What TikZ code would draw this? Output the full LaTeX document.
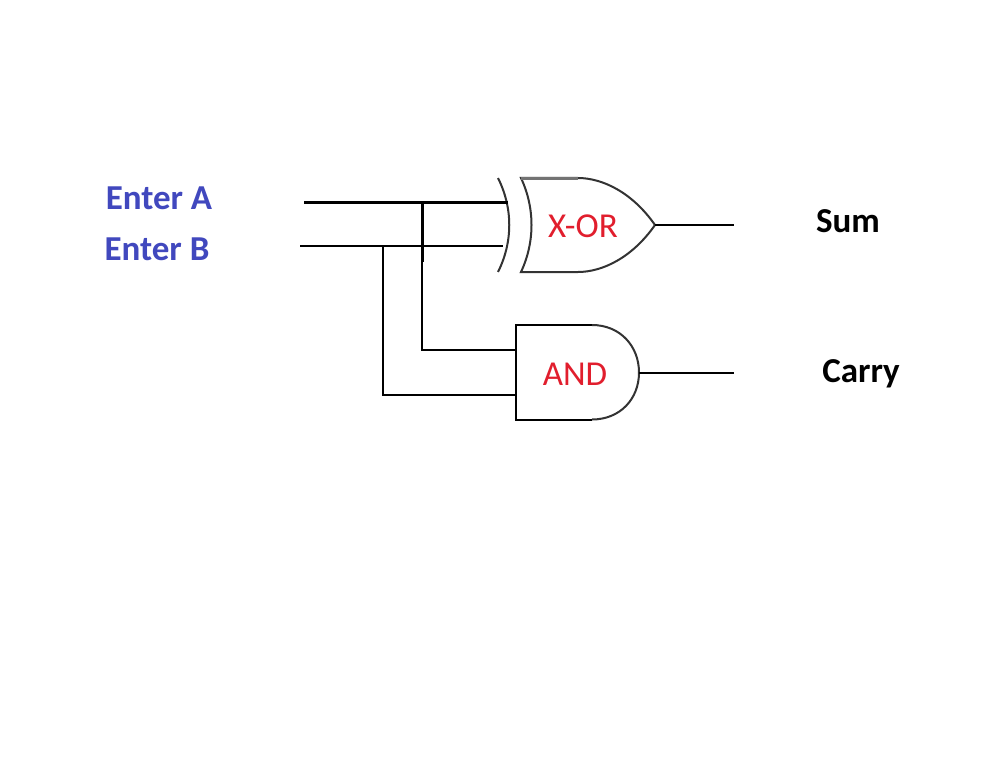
\documentclass[tikz,border=0pt]{standalone}
\usepackage{fontspec}
\setmainfont{Carlito}
\definecolor{inblue}{RGB}{65,72,190}
\definecolor{gatered}{RGB}{225,30,45}
\tikzset{
	wire/.style={line width=2pt},
	heavy/.style={line width=3pt},
	gateline/.style={line width=2pt,black!80},
	inlabel/.style={font=\fontsize{35}{42}\selectfont\bfseries,text=inblue},
	outlabel/.style={font=\fontsize{35}{42}\selectfont\bfseries,text=black},
	gatelabel/.style={font=\fontsize{35}{42}\selectfont,text=gatered}
}
\begin{document}
\begin{tikzpicture}[x=1pt,y=-1pt]
\useasboundingbox (0,0) rectangle (994,757);
\node[inlabel] (enterA) at (159,198) {Enter A};
\node[inlabel] (enterB) at (157,249) {Enter B};
\node[outlabel] (sum) at (848,221) {Sum};
\node[outlabel] (carry) at (861,374) {Carry};
\node[gatelabel] (xorlabel) at (583,226) {X-OR};
\node[gatelabel] (andlabel) at (575,374) {AND};
% input rails
\coordinate (inA) at (304,202.5);
\coordinate (inB) at (300,245.5);
\coordinate (xorA) at (508,202.5);
\coordinate (xorB) at (503,245.5);
\coordinate (tapA) at (422,202.5);
\coordinate (tapAend) at (422,262);
\coordinate (tapB) at (383,245.5);
\coordinate (andA) at (516,350);
\coordinate (andB) at (516,395);
\coordinate (xorout) at (655,225);
\coordinate (andout) at (639,372.5);
\coordinate (sumend) at (734,225);
\coordinate (carryend) at (734,372.5);
% X-OR gate
\draw[gateline] (498,178) .. controls (513,208) and (513,242) .. (498,272);
\draw[gateline,line join=miter] (xorout) .. controls (632,192) and (602,178) .. (578,178)
	-- (521,178) .. controls (535,208) and (535,242) .. (521,272)
	-- (578,272) .. controls (602,272) and (632,258) .. (xorout);
\draw[line width=3pt,black!55] (521,178.5) -- (578,178.5);
% AND gate
\draw[wire] (592,325) -- (516,325) -- (516,419.5) -- (592,419.5);
\draw[gateline] (592,325) .. controls (620,325) and (639,346) .. (andout)
	.. controls (639,399) and (620,419.5) .. (592,419.5);
% wires
\draw[heavy] (inA) -- (xorA);
\draw[wire] (inB) -- (xorB);
\draw[heavy] (tapA) -- (tapAend);
\draw[wire] (tapAend) |- (andA);
\draw[wire] (tapB) |- (andB);
\draw[wire] (xorout) -- (sumend);
\draw[wire] (andout) -- (carryend);
\end{tikzpicture}
\end{document}
